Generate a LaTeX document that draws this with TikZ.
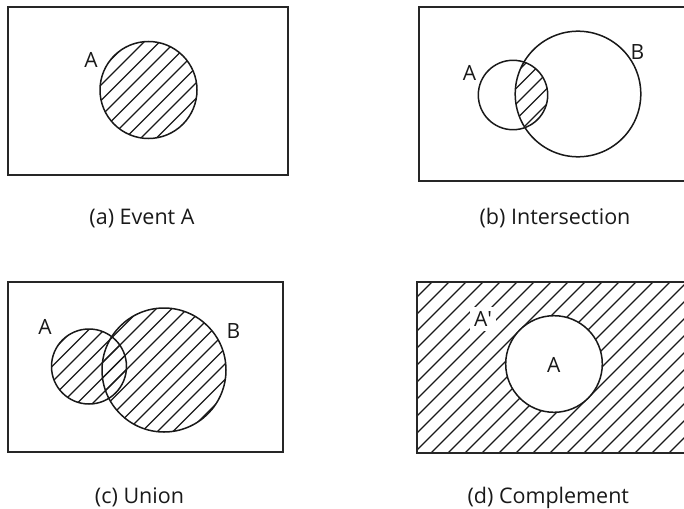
\documentclass[tikz,border=0pt]{standalone}
\usepackage{fontspec}
\setmainfont{Open Sans}

% hatching: lines x+y=c over the whole page, to be clipped
\newcommand{\hatchlines}[1]{%
  \foreach \c in {0,#1,...,1220} {\draw[hatch] (\c-520,520) -- (\c+10,-10);}}

\begin{document}
\begin{tikzpicture}[x=1pt, y=-1pt,
    frame/.style = {draw=black!85, line width=1.5pt},
    set/.style = {draw=black!90, line width=1.5pt},
    hatch/.style = {line width=1.25pt, black!90},
    setlabel/.style = {font=\fontsize{21}{21}\selectfont, inner sep=1pt, text=black!90},
    caption/.style = {font=\fontsize{21.5}{21.5}\selectfont, anchor=base, text=black!90},
]
\useasboundingbox (0,0) rectangle (684,508);

%% ---- (a) Event A ----
\coordinate (aA) at (148.5,90);
\begin{scope}
  \clip (aA) circle[radius=48.5];
  \hatchlines{15.5}
\end{scope}
\draw[set] (aA) circle[radius=48.5];
\draw[frame] (8,7) rectangle (288,175);
\node[setlabel] (alabA) at (91,59.5) {A};
\node[caption] (acap) at (142,224) {(a) Event A};

%% ---- (b) Intersection ----
\coordinate (bA) at (513,95);
\coordinate (bB) at (578,94);
\begin{scope}
  \clip (bA) circle[radius=34.7];
  \clip (bB) circle[radius=62.8];
  \hatchlines{15.5}
\end{scope}
\draw[set] (bA) circle[radius=34.7];
\draw[set] (bB) circle[radius=62.8];
\draw[frame] (419,7) rectangle (686,181);
\node[setlabel] (blabA) at (469.5,73) {A};
\node[setlabel] (blabB) at (637.5,52.5) {B};
\node[caption] (bcap) at (555,224) {(b) Intersection};

%% ---- (c) Union ----
\coordinate (cA) at (89,366.5);
\coordinate (cB) at (164,370);
\begin{scope}
  \clip (cA) circle[radius=37.5];
  \hatchlines{15.5}
\end{scope}
\begin{scope}
  \clip (cB) circle[radius=62];
  \hatchlines{15.5}
\end{scope}
\draw[set] (cA) circle[radius=37.5];
\draw[set] (cB) circle[radius=62];
\draw[frame] (8,282) rectangle (283,452);
\node[setlabel] (clabA) at (45,326.5) {A};
\node[setlabel] (clabB) at (233.5,331) {B};
\node[caption] (ccap) at (139.5,503) {(c) Union};

%% ---- (d) Complement ----
\coordinate (dA) at (554,364);
\begin{scope}
  \clip (417,282) rectangle (686,453);
  \hatchlines{17}
\end{scope}
\fill[white] (dA) circle[radius=48.3];
\draw[set] (dA) circle[radius=48.3];
\draw[frame] (417,282) rectangle (686,453);
\node[setlabel] (dlabA) at (553.7,365) {A};
\node[setlabel, fill=white, inner sep=4pt] (dlabAc) at (483,319) {A\textquotesingle};
\node[caption] (dcap) at (548.3,503) {(d) Complement};

\end{tikzpicture}
\end{document}
